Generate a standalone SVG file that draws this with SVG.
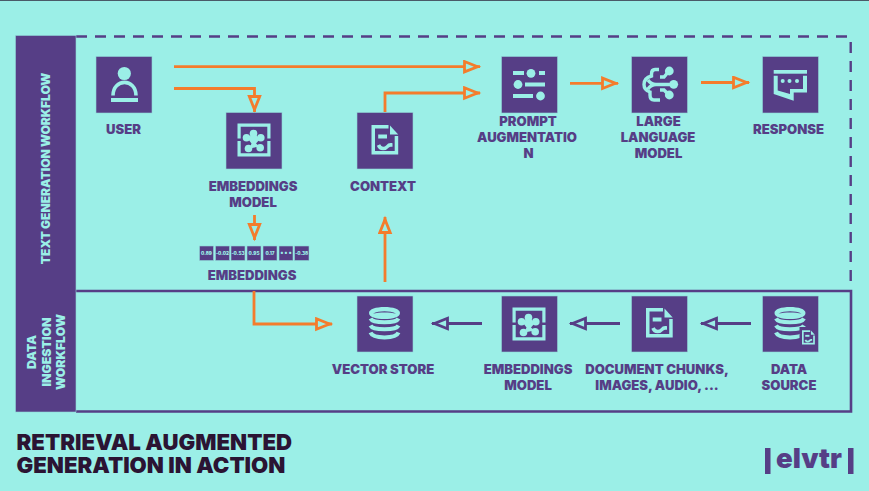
<svg xmlns="http://www.w3.org/2000/svg" width="869" height="491" viewBox="0 0 869 491">
<style>
text{font-family:Inter,"Liberation Sans",sans-serif;font-weight:900;text-anchor:middle}
.l{font-size:13.100px;fill:#563e86}
.s{font-size:12.300px;fill:#9befe7}
.s2{font-size:12px;fill:#9befe7}
.t{font-size:22.200px;fill:#2b1433;text-anchor:start}
.v{font-size:4.600px;fill:#9befe7}
.box{fill:#563e86;stroke:#8fd6d8;stroke-width:.6}
.or{fill:none;stroke:#f47c2c;stroke-width:2.800}
.pu{fill:none;stroke:#563e86;stroke-width:2.800}
.ic{fill:#9befe7;stroke:none}
.il{fill:none;stroke:#9befe7}
</style>
<defs>
<marker id="ao" markerUnits="userSpaceOnUse" markerWidth="20" markerHeight="16" refX="17" refY="7" orient="auto"><path d="M1.500 1.800L14.500 7L1.500 12.200Z" fill="#9befe7" stroke="#f47c2c" stroke-width="2.800"/></marker>
<marker id="ap" markerUnits="userSpaceOnUse" markerWidth="20" markerHeight="16" refX="17" refY="7" orient="auto"><path d="M1.500 1.800L14.500 7L1.500 12.200Z" fill="#9befe7" stroke="#563e86" stroke-width="2.800"/></marker>
<symbol id="doc" viewBox="0 0 27 30" overflow="visible">
<path class="ic" d="M0 0H17V3.500H3.500V26H23.200V11H26.700V29.500H0Z"/>
<path class="ic" d="M18.500 0.500L26.700 9.500H18.500Z"/>
<path class="ic" d="M6.700 9.500H15.500V13.500H6.700Z"/>
<path class="il" stroke-width="3.600" d="M7 20C9 25 14 24 16 21.500S19.500 20 21 20"/>
</symbol>
<symbol id="emb" viewBox="0 0 33 33" overflow="visible">
<path class="ic" d="M0 0H33V15H29.800V3.200H3.200V15H0ZM0 17.500H3.200V29.800H29.800V17.500H33V33H0Z"/>
<circle class="ic" cx="16" cy="10" r="3.800"/><circle class="ic" cx="9" cy="14.300" r="3.800"/><circle class="ic" cx="23.300" cy="14.300" r="3.800"/><circle class="ic" cx="11" cy="25" r="3.800"/><circle class="ic" cx="22.700" cy="24.300" r="3.800"/>
<path class="ic" d="M13 12H19L22 16L18.500 20L22 23L12 25L14 20L11 16Z"/>
</symbol>
<symbol id="db" viewBox="0 0 31 33" overflow="visible">
<path class="ic" fill-rule="evenodd" d="M0 6C0 2 7 0 15.500 0S31 2 31 6S24 12 15.500 12S0 10 0 6ZM4 6.500C10 3.500 21 3.500 27 6.500C21 5 10 5 4 6.500Z"/>
<path class="il" stroke-width="4" d="M1.500 11.500C4 16.500 27 16.500 29.500 11.500M1.500 18.500C4 23.500 27 23.500 29.500 18.500M1.500 25.500C4 32 27 32 29.500 25.500"/>
</symbol>
</defs>
<rect width="869" height="491" fill="#9befe7"/>
<rect width="869" height="1" fill="#4a5a68"/>

<g id="frame">
<path fill="none" stroke="#563e86" stroke-width="2.400" stroke-dasharray="11 8" d="M76 36.500H851"/>
<path fill="none" stroke="#563e86" stroke-width="2.400" stroke-dasharray="11 8" d="M850.700 42V286"/>
<path fill="none" stroke="#563e86" stroke-width="2.600" d="M76 291H851V411.500H76"/>
</g>
<g id="lane-text">
<rect class="box" x="15.500" y="35.500" width="60.500" height="376.500"/>
<text class="s2" transform="translate(50 168.500) rotate(-90)">TEXT GENERATION WORKFLOW</text>
</g>
<g id="lane-ingest">
<text class="s" transform="translate(36 352) rotate(-90)">DATA</text>
<text class="s" transform="translate(50.500 352) rotate(-90)">INGESTION</text>
<text class="s" transform="translate(65 352) rotate(-90)">WORKFLOW</text>
</g>

<g id="connectors">
<path class="or" marker-end="url(#ao)" d="M174 66.700H480"/>
<path class="or" marker-end="url(#ao)" d="M174 88.500H254.500V112"/>
<path class="or" marker-end="url(#ao)" d="M385 112V93H480"/>
<path class="or" marker-end="url(#ao)" d="M570 83.300H618"/>
<path class="or" marker-end="url(#ao)" d="M701 82.500H749"/>
<path class="or" marker-end="url(#ao)" d="M254.500 215V240"/>
<path class="or" marker-end="url(#ao)" d="M385 282V217"/>
<path class="or" marker-end="url(#ao)" d="M254 291V324H332"/>
<path class="pu" marker-end="url(#ap)" d="M482 323.500H432"/>
<path class="pu" marker-end="url(#ap)" d="M620 323.500H570"/>
<path class="pu" marker-end="url(#ap)" d="M751 323.500H701"/>
</g>

<g id="user">
<rect class="box" x="96" y="56.500" width="56" height="56.500"/>
<circle class="ic" cx="124.300" cy="73.500" r="6.600"/>
<path class="il" stroke-width="3.600" d="M113 95.500C113 78 136 78 136 95.500"/>
<rect class="ic" x="111" y="98" width="27" height="4"/>
<text class="l" x="123.500" y="134">USER</text>
</g>
<g id="embeddings-model">
<rect class="box" x="226" y="112.500" width="56" height="56.500"/>
<use href="#emb" x="237.500" y="123.500" width="33" height="33"/>
<text class="l" x="253" y="191">EMBEDDINGS</text>
<text class="l" x="253" y="207">MODEL</text>
</g>
<g id="context">
<rect class="box" x="357" y="112.500" width="56" height="56.500"/>
<use href="#doc" x="371.500" y="125" width="27" height="30"/>
<text class="l" x="383" y="191">CONTEXT</text>
</g>
<g id="prompt-augmentation">
<rect class="box" x="501.500" y="56.500" width="56" height="56.500"/>
<rect class="ic" x="513" y="71" width="11" height="4"/><circle class="ic" cx="531" cy="73.300" r="4.400"/><rect class="ic" x="539" y="71" width="6" height="4"/>
<circle class="ic" cx="518" cy="84.500" r="4.400"/><rect class="ic" x="525" y="82.500" width="20" height="4"/>
<rect class="ic" x="513" y="94" width="20" height="4"/><circle class="ic" cx="540.500" cy="96" r="4.400"/>
<text class="l" x="528" y="126">PROMPT</text>
<text class="l" x="527" y="142">AUGMENTATIO</text>
<text class="l" x="528.500" y="158">N</text>
</g>
<g id="large-language-model">
<rect class="box" x="631.500" y="56.500" width="56" height="56.500"/>
<g transform="translate(631 56)">
<path class="il" stroke-width="3.400" d="M28 13.500H24Q20.500 13.500 20.500 18V20Q13 22 13 28.500Q13 34 19 36V39Q19 44 23 44H29M17 24Q20 28.500 25 28.500H42M17 33Q20 28.500 25 28.500M29 21H33L38 15M29 34H33L38 39"/>
<circle class="ic" cx="38.300" cy="15" r="4.400"/><circle class="ic" cx="42.700" cy="28.300" r="4.400"/><circle class="ic" cx="38.300" cy="39" r="4.400"/>
</g>
<text class="l" x="658.500" y="126">LARGE</text>
<text class="l" x="658" y="142">LANGUAGE</text>
<text class="l" x="658.500" y="158">MODEL</text>
</g>
<g id="response">
<rect class="box" x="762.500" y="56.500" width="56" height="56.500"/>
<rect class="ic" x="773.700" y="70" width="33.300" height="3.700"/>
<path class="ic" d="M773.700 75.700H777.700V90.500L790 94V89H803V75.700H807V92.500H793.700V100.700L773.700 94Z"/>
<circle class="ic" cx="782.700" cy="81" r="2"/><circle class="ic" cx="789.500" cy="81" r="2"/><circle class="ic" cx="797" cy="81" r="2"/>
<text class="l" x="788.500" y="133.500">RESPONSE</text>
</g>
<g id="embeddings">
<g class="cells">
<rect class="box" x="199.500" y="246" width="14" height="14.500"/><rect class="box" x="215.500" y="246" width="14" height="14.500"/><rect class="box" x="231" y="246" width="14" height="14.500"/><rect class="box" x="247" y="246" width="14" height="14.500"/><rect class="box" x="263" y="246" width="14" height="14.500"/><rect class="box" x="279" y="246" width="14" height="14.500"/><rect class="box" x="294.500" y="246" width="14.500" height="14.500"/>
</g>
<text class="v" x="206.500" y="254.700">0.89</text><text class="v" x="222.500" y="254.700">-0.02</text><text class="v" x="238" y="254.700">-0.53</text><text class="v" x="254" y="254.700">0.95</text><text class="v" x="270" y="254.700">0.17</text><text class="v" x="286" y="255" style="font-size:7px">• • •</text><text class="v" x="301.700" y="254.700">-0.38</text>
<text class="l" x="252" y="280">EMBEDDINGS</text>
</g>
<g id="vector-store">
<rect class="box" x="357" y="296" width="56" height="56"/>
<use href="#db" x="369" y="307" width="31" height="33"/>
<text class="l" x="383" y="374">VECTOR STORE</text>
</g>
<g id="embeddings-model-2">
<rect class="box" x="501.500" y="296" width="56" height="56"/>
<use href="#emb" x="512.500" y="307.500" width="33" height="33"/>
<text class="l" x="528" y="374">EMBEDDINGS</text>
<text class="l" x="528" y="390">MODEL</text>
</g>
<g id="document-chunks">
<rect class="box" x="631.500" y="296" width="56" height="56"/>
<use href="#doc" x="646" y="308" width="27" height="30"/>
<text class="l" x="657" y="374">DOCUMENT CHUNKS,</text>
<text class="l" x="657" y="390">IMAGES, AUDIO, ...</text>
</g>
<g id="data-source">
<rect class="box" x="762.500" y="296" width="56" height="56"/>
<use href="#db" x="774.500" y="307" width="31" height="33"/>
<rect x="799.500" y="327" width="17" height="21" fill="#563e86"/>
<use href="#doc" x="802" y="329" width="13" height="17"/>
<text class="l" x="789" y="374">DATA</text>
<text class="l" x="789" y="390">SOURCE</text>
</g>
<g id="title">
<text class="t"><tspan x="16.500" y="450">RETRIEVAL AUGMENTED</tspan><tspan x="16.500" y="473">GENERATION IN ACTION</tspan></text>
</g>
<g id="logo">
<rect x="765" y="448" width="5.500" height="26" fill="#563e86"/>
<rect x="848" y="448" width="5.500" height="26" fill="#563e86"/>
<text x="809" y="468" style="font-size:27.500px;fill:#563e86">elvtr</text>
</g>
</svg>
